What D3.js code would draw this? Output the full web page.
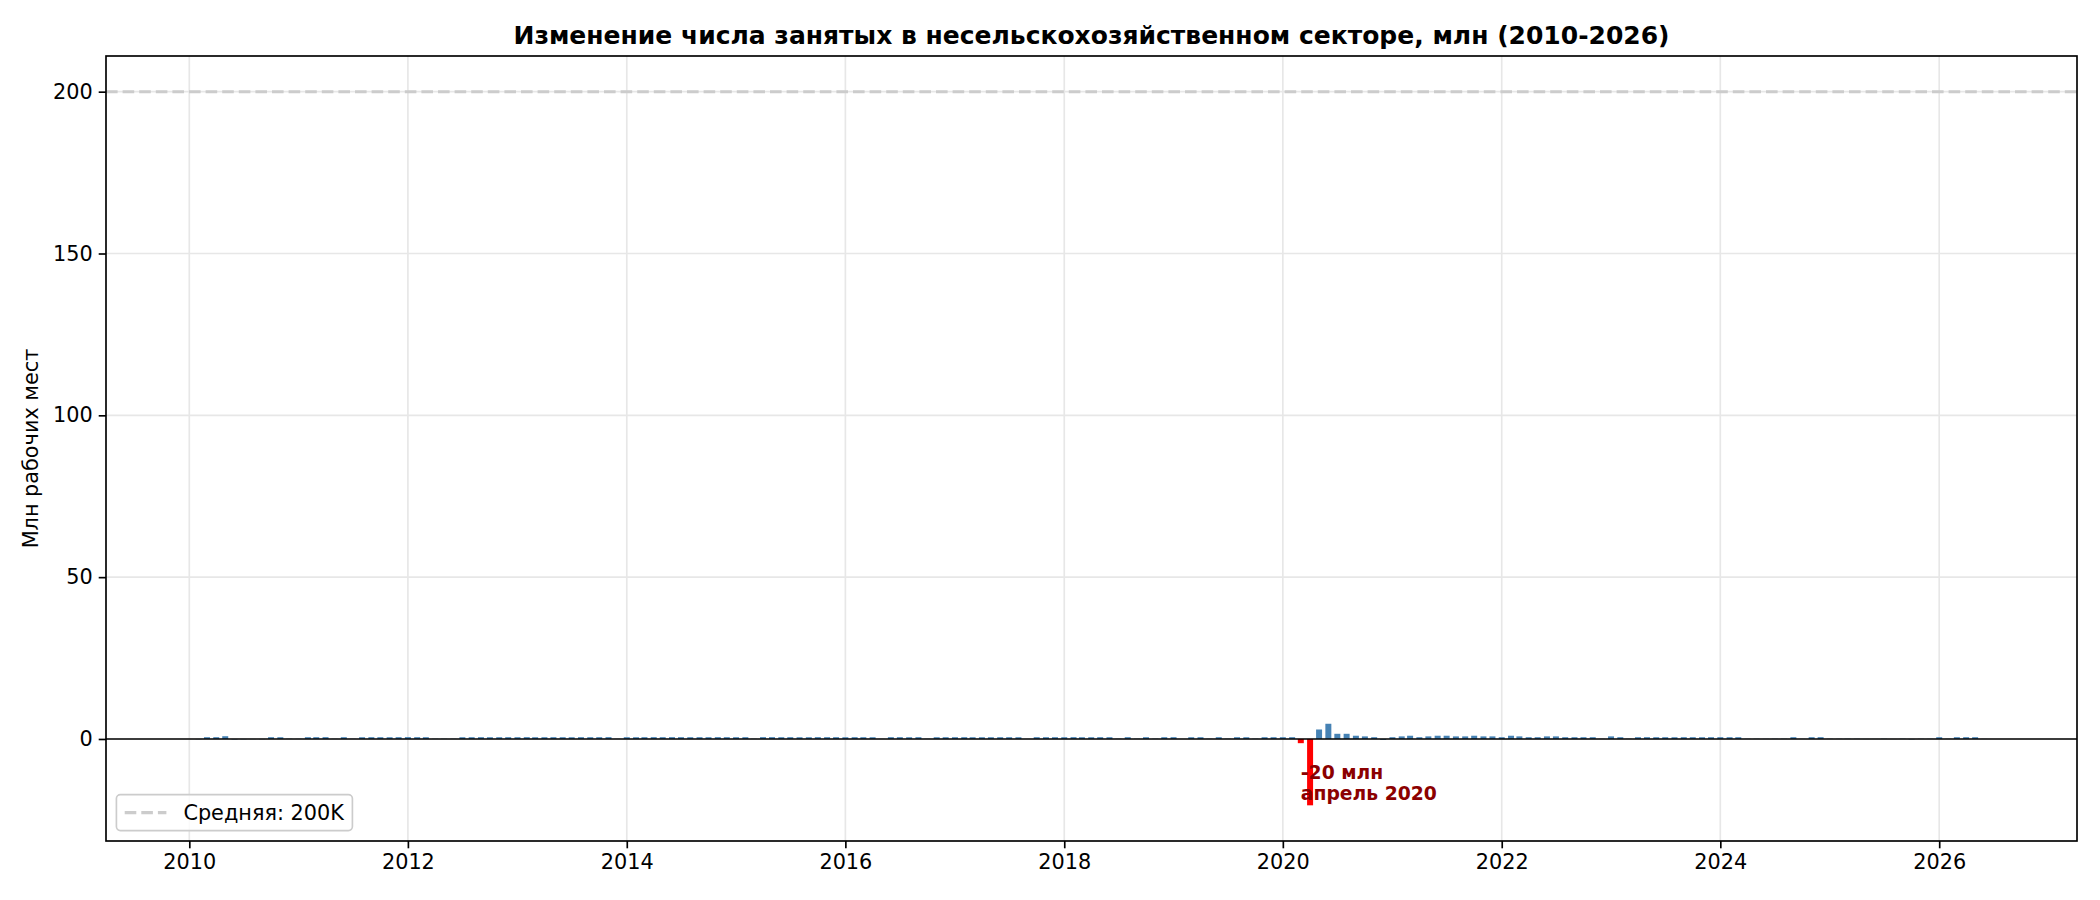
<!DOCTYPE html>
<html>
<head>
<meta charset="utf-8">
<script src="https://cdn.jsdelivr.net/npm/d3@7"></script>
<style>
    body { margin: 0; background: #fff; }
    svg text { font-family: "DejaVu Sans", sans-serif; }
</style>
</head>
<body>
<div id="chart"></div>
<script>
// Месячное изменение числа занятых, млн (2010 начинается с февраля)
const jobs2010 = [-0.06, 0.55, 0.56, 0.85, -0.13, -0.07, -0.04, -0.06, 0.55, 0.54, 0.07];
const jobs2011 = [0.04, 0.55, 0.56, 0.57, 0.05, 0.55, 0.06, 0.54, 0.56, 0.55, 0.54, 0.56];
const jobs2012 = [0.58, 0.56, 0.55, 0.07, 0.07, 0.06, 0.54, 0.55, 0.56, 0.54, 0.55, 0.56];
const jobs2013 = [0.55, 0.57, 0.54, 0.55, 0.56, 0.55, 0.54, 0.56, 0.55, 0.56, 0.57, 0.05];
const jobs2014 = [0.55, 0.54, 0.56, 0.57, 0.56, 0.57, 0.56, 0.55, 0.56, 0.55, 0.57, 0.56];
const jobs2015 = [0.55, 0.56, 0.07, 0.57, 0.57, 0.55, 0.56, 0.54, 0.54, 0.57, 0.56, 0.56];
const jobs2016 = [0.54, 0.56, 0.55, 0.54, 0.04, 0.56, 0.56, 0.54, 0.56, 0.06, 0.54, 0.55];
const jobs2017 = [0.55, 0.56, 0.54, 0.54, 0.54, 0.55, 0.55, 0.54, 0.02, 0.56, 0.55, 0.55];
const jobs2018 = [0.55, 0.57, 0.54, 0.54, 0.56, 0.55, 0.07, 0.56, 0.08, 0.55, 0.09, 0.55];
const jobs2019 = [0.56, 0.01, 0.54, 0.55, 0.06, 0.55, 0.08, 0.55, 0.54, 0.09, 0.55, 0.55];
const jobs2020 = [0.55, 0.56, -1.3, -20.5, 2.93, 4.70, 1.60, 1.60, 1.00, 0.80, 0.55, -0.27];
const jobs2021 = [0.55, 0.80, 1.00, 0.55, 0.80, 1.00, 1.00, 0.80, 0.80, 1.00, 0.80, 0.80];
const jobs2022 = [0.55, 1.00, 0.80, 0.55, 0.55, 0.80, 0.80, 0.55, 0.55, 0.55, 0.55, 0.05];
const jobs2023 = [0.80, 0.55, 0.06, 0.55, 0.56, 0.55, 0.55, 0.54, 0.56, 0.55, 0.54, 0.55];
const jobs2024 = [0.56, 0.55, 0.55, 0.05, 0.07, 0.04, 0.06, 0.07, 0.55, 0.03, 0.55, 0.56];
const jobs2025 = [0.06, 0.05, 0.07, 0.06, -0.02, -0.01, 0.07, -0.03, 0.07, -0.10, 0.05, 0.04];
const jobs2026 = [0.55, 0.05, 0.55, 0.56, 0.55, 0.03];

const yearSeries = [
    [2010, jobs2010], [2011, jobs2011], [2012, jobs2012], [2013, jobs2013],
    [2014, jobs2014], [2015, jobs2015], [2016, jobs2016], [2017, jobs2017],
    [2018, jobs2018], [2019, jobs2019], [2020, jobs2020], [2021, jobs2021],
    [2022, jobs2022], [2023, jobs2023], [2024, jobs2024], [2025, jobs2025],
    [2026, jobs2026]
];

const yearTicks = [2010, 2012, 2014, 2016, 2018, 2020, 2022, 2024, 2026];
const valueTicks = [0, 50, 100, 150, 200];
const avgLevel = 200;

const titleText = 'Изменение числа занятых в несельскохозяйственном секторе, млн (2010-2026)';
const yLabelText = 'Млн рабочих мест';
const legendText = 'Средняя: 200K';
const noteLines = ['-20 млн', 'апрель 2020'];

const W = 2100, H = 900;
const margin = { top: 56, right: 23, bottom: 59, left: 106 };
const DAY = 86400000;

// собираем помесячный ряд
const data = [];
yearSeries.forEach(([year, vals]) => {
    const firstMonth = year === 2010 ? 1 : 0;
    vals.forEach((v, i) => {
        data.push({ date: new Date(Date.UTC(year, firstMonth + i, 1)), value: v });
    });
});

const svg = d3.select('#chart').append('svg')
    .attr('width', W)
    .attr('height', H);

const pLeft = margin.left, pRight = W - margin.right;
const pTop = margin.top, pBottom = H - margin.bottom;

// ось X: ширина столбца 20 дней, поля 5%
const lo = +data[0].date - 10 * DAY;
const hi = +data[data.length - 1].date + 10 * DAY;
const xPad = (hi - lo) * 0.05;
const x = d3.scaleUtc()
    .domain([new Date(lo - xPad), new Date(hi + xPad)])
    .range([pLeft, pRight]);

const yMin = Math.min(d3.min(data, d => d.value), 0);
const yMax = Math.max(d3.max(data, d => d.value), avgLevel);
const yPad = (yMax - yMin) * 0.05;
const y = d3.scaleLinear()
    .domain([yMin - yPad, yMax + yPad])
    .range([pBottom, pTop]);

// сетка
const grid = svg.append('g');
grid.selectAll('.gx')
    .data(yearTicks)
    .join('line')
    .attr('x1', d => x(new Date(Date.UTC(d, 0, 1))))
    .attr('x2', d => x(new Date(Date.UTC(d, 0, 1))))
    .attr('y1', pTop).attr('y2', pBottom)
    .attr('stroke', '#e7e7e7').attr('stroke-width', 1.67);
grid.selectAll('.gy')
    .data(valueTicks)
    .join('line')
    .attr('x1', pLeft).attr('x2', pRight)
    .attr('y1', d => y(d)).attr('y2', d => y(d))
    .attr('stroke', '#e7e7e7').attr('stroke-width', 1.67);

// линия «средней»
svg.append('line')
    .attr('x1', pLeft).attr('x2', pRight)
    .attr('y1', y(avgLevel)).attr('y2', y(avgLevel))
    .attr('stroke', '#cccccc')
    .attr('stroke-width', 3.1)
    .attr('stroke-dasharray', '11.6,5');

// столбцы
svg.append('g')
    .selectAll('rect')
    .data(data)
    .join('rect')
    .attr('x', d => x(new Date(+d.date - 10 * DAY)))
    .attr('width', d => x(new Date(+d.date + 10 * DAY)) - x(new Date(+d.date - 10 * DAY)))
    .attr('y', d => y(Math.max(0, d.value)))
    .attr('height', d => Math.abs(y(d.value) - y(0)))
    .attr('fill', d => d.value < -1 ? '#ff0000' : '#4682b4');

// нулевая линия
svg.append('line')
    .attr('x1', pLeft).attr('x2', pRight)
    .attr('y1', y(0)).attr('y2', y(0))
    .attr('stroke', '#000').attr('stroke-width', 1.67);

// оси
const xAxis = svg.append('g')
    .attr('transform', `translate(0,${pBottom})`)
    .call(d3.axisBottom(x)
        .tickValues(yearTicks.map(d => new Date(Date.UTC(d, 0, 1))))
        .tickFormat(d3.utcFormat('%Y'))
        .tickSize(7.3)
        .tickPadding(6));
const yAxis = svg.append('g')
    .attr('transform', `translate(${pLeft},0)`)
    .call(d3.axisLeft(y)
        .tickValues(valueTicks)
        .tickSize(7.3)
        .tickPadding(6));
[xAxis, yAxis].forEach(a => {
    a.select('.domain').remove();
    a.selectAll('.tick line').attr('stroke', '#000').attr('stroke-width', 1.67);
    a.selectAll('.tick text')
        .attr('fill', '#000')
        .attr('font-size', 20.8)
        .style('font-family', '"DejaVu Sans", sans-serif');
});

svg.append('rect')
    .attr('x', pLeft).attr('y', pTop)
    .attr('width', pRight - pLeft).attr('height', pBottom - pTop)
    .attr('fill', 'none')
    .attr('stroke', '#000')
    .attr('stroke-width', 1.67);

// заголовок и подпись оси
svg.append('text')
    .attr('x', (pLeft + pRight) / 2)
    .attr('y', pTop - 12.5)
    .attr('text-anchor', 'middle')
    .attr('font-size', 25)
    .attr('font-weight', 'bold')
    .text(titleText);

svg.append('text')
    .attr('transform', `translate(31,${(pTop + pBottom) / 2}) rotate(-90)`)
    .attr('text-anchor', 'middle')
    .attr('dy', '0.35em')
    .attr('font-size', 20.8)
    .text(yLabelText);

// подпись минимума
const lowest = data.reduce((a, b) => (b.value < a.value ? b : a));
const prevMonth = data[data.indexOf(lowest) - 1];
const note = svg.append('text')
    .attr('x', x(prevMonth.date))
    .attr('y', y(lowest.value))
    .attr('font-size', 18.75)
    .attr('font-weight', 'bold')
    .attr('fill', '#8b0000');
note.selectAll('tspan')
    .data(noteLines)
    .join('tspan')
    .attr('x', x(prevMonth.date))
    .attr('dy', (d, i) => i === 0 ? -26 : 21)
    .text(d => d);

// легенда
const lg = svg.append('g').attr('transform', `translate(${pLeft + 10.4},${pBottom - 10.4 - 36})`);
lg.append('rect')
    .attr('width', 236).attr('height', 36)
    .attr('rx', 4)
    .attr('fill', 'rgba(255,255,255,0.8)')
    .attr('stroke', '#cccccc')
    .attr('stroke-width', 1.67);
lg.append('line')
    .attr('x1', 8.3).attr('x2', 50)
    .attr('y1', 18).attr('y2', 18)
    .attr('stroke', '#cccccc')
    .attr('stroke-width', 3.1)
    .attr('stroke-dasharray', '11.6,5');
lg.append('text')
    .attr('x', 67)
    .attr('y', 18)
    .attr('dy', '0.35em')
    .attr('font-size', 20.8)
    .text(legendText);
</script>
</body>
</html>
